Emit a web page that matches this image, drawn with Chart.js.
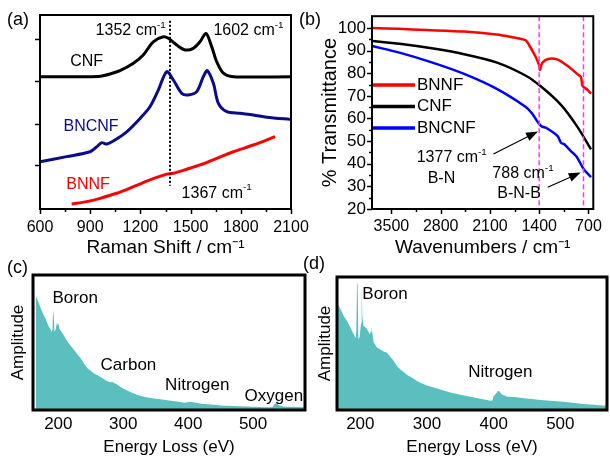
<!DOCTYPE html>
<html>
<head>
<meta charset="utf-8">
<script src="https://cdn.jsdelivr.net/npm/chart.js@4"></script>
<style>
  body { margin: 0; background: #fff; }
  canvas { position: absolute; left: 0; top: 0; }
</style>
</head>
<body>
<canvas id="ramanChart" width="610" height="456"></canvas>
<canvas id="ftirChart" width="610" height="456"></canvas>
<canvas id="eelsC" width="610" height="456"></canvas>
<canvas id="eelsD" width="610" height="456"></canvas>
<script>
// (a) Raman
const ramanCnfX = [600, 900, 960, 1018, 1078, 1158, 1217, 1277, 1337, 1367, 1417, 1467, 1516, 1556, 1592, 1626, 1656, 1696, 1755, 2100];
const ramanCnfY = [68.2, 68.2, 68.4, 69.6, 71.3, 75.1, 79.4, 86.2, 88.8, 88.0, 84.5, 82.0, 82.8, 86.2, 90.5, 83.7, 75.9, 70.0, 68.2, 68.2];
const ramanBncnfX = [600, 759, 899, 939, 969, 999, 1048, 1118, 1198, 1257, 1307, 1357, 1397, 1447, 1486, 1537, 1576, 1600, 1636, 1666, 1716, 1795, 1875, 1955, 2094, 2100];
const ramanBncnfY = [24.4, 27.0, 29.5, 32.1, 34.2, 33.5, 35.6, 39.8, 46.7, 52.7, 61.3, 70.8, 66.5, 59.6, 58.8, 60.5, 68.2, 71.3, 64.8, 54.5, 50.2, 49.3, 48.5, 47.3, 46.2, 46.2];
const ramanBnnfX = [789, 879, 959, 1058, 1158, 1257, 1357, 1397, 1477, 1557, 1656, 1756, 1875, 2005];
const ramanBnnfY = [2.6, 3.8, 5.5, 8.1, 11.5, 15.0, 18.0, 18.4, 20.5, 22.7, 26.1, 29.5, 33.0, 37.3];
const ramanXTicks = [600, 900, 1200, 1500, 1800, 2100];
const ramanXMinor = [750, 1050, 1350, 1650, 1950];
const ramanYTicks = [22.7, 43.8, 66, 87.6];

// (b) FTIR
const ftirBnnfX = [3776, 3400, 3000, 2467, 2009, 1800, 1595, 1550, 1458, 1400, 1389, 1357, 1274, 1137, 999, 861, 806, 785, 723, 663];
const ftirBnnfY = [100, 99.6, 99.1, 98.4, 97.1, 96.0, 94.6, 92.8, 87.7, 83.5, 81.5, 84.5, 86.3, 86.0, 83.3, 79.7, 78.3, 74.5, 72.9, 71.0];
const ftirCnfX = [3776, 3386, 2927, 2467, 2009, 1595, 1365, 1090, 861, 663];
const ftirCnfY = [94.2, 93.0, 91.0, 88.4, 84.8, 79.0, 73.9, 66.0, 56.5, 46.4];
const ftirBncnfX = [3776, 3386, 2927, 2467, 2009, 1595, 1503, 1411, 1365, 1297, 1137, 1090, 1044, 953, 861, 769, 663];
const ftirBncnfY = [92.0, 89.1, 84.8, 79.7, 73.2, 65.2, 62.3, 58.0, 56.5, 55.8, 52.2, 49.3, 48.6, 45.7, 42.8, 37.7, 34.1];
const ftirXTicks = [3500, 2800, 2100, 1400, 700];
const ftirXMinor = [3150, 2450, 1750, 1050];
const ftirYTicks = [20, 30, 40, 50, 60, 70, 80, 90, 100];
const ftirYMinor = [25, 35, 45, 55, 65, 75, 85, 95];

// (c) EELS BNCNF
const eelsCX = [165, 170, 175, 180, 185, 188, 190, 191, 192, 193, 194, 196, 198, 199, 200, 202, 205, 210, 215, 220, 225, 230, 235, 240, 245, 250, 255, 260, 265, 270, 275, 280, 283, 286, 290, 295, 300, 310, 320, 330, 340, 350, 360, 370, 380, 390, 395, 400, 405, 410, 420, 430, 440, 450, 460, 470, 480, 490, 500, 510, 520, 525, 530, 533, 536, 540, 545, 550, 560, 570, 580];
const eelsCY = [0.85, 0.79, 0.73, 0.68, 0.62, 0.60, 0.58, 0.60, 0.74, 0.70, 0.58, 0.60, 0.65, 0.63, 0.64, 0.60, 0.58, 0.54, 0.50, 0.47, 0.44, 0.41, 0.38, 0.34, 0.31, 0.29, 0.27, 0.26, 0.245, 0.23, 0.215, 0.205, 0.208, 0.2, 0.19, 0.175, 0.16, 0.135, 0.115, 0.1, 0.09, 0.083, 0.077, 0.071, 0.065, 0.058, 0.054, 0.06, 0.06, 0.055, 0.047, 0.042, 0.038, 0.034, 0.031, 0.029, 0.027, 0.026, 0.025, 0.023, 0.021, 0.02, 0.022, 0.045, 0.05, 0.035, 0.028, 0.025, 0.024, 0.022, 0.02];
// (d) EELS BNNF
const eelsDX = [165, 167, 172, 176, 180, 185, 190, 193, 194, 195, 196, 197, 199, 201, 202, 203, 205, 208, 211, 214, 216, 217, 218, 220, 225, 230, 235, 240, 245, 250, 255, 260, 265, 270, 275, 280, 285, 290, 300, 310, 320, 335, 350, 365, 380, 390, 395, 398, 400, 403, 406, 408, 410, 413, 416, 420, 430, 435, 445, 460, 475, 485, 500, 515, 535, 550, 560, 570];
const eelsDY = [0.8, 0.79, 0.74, 0.70, 0.67, 0.62, 0.57, 0.54, 0.60, 0.96, 0.94, 0.53, 0.55, 0.65, 0.92, 0.70, 0.63, 0.62, 0.60, 0.57, 0.59, 0.63, 0.58, 0.51, 0.47, 0.455, 0.44, 0.43, 0.40, 0.37, 0.33, 0.305, 0.285, 0.265, 0.25, 0.235, 0.218, 0.205, 0.185, 0.17, 0.155, 0.132, 0.115, 0.1, 0.085, 0.075, 0.07, 0.072, 0.105, 0.12, 0.14, 0.145, 0.13, 0.115, 0.11, 0.1, 0.097, 0.095, 0.088, 0.08, 0.074, 0.07, 0.063, 0.056, 0.045, 0.04, 0.036, 0.032];
const eelsTicks = [200, 300, 400, 500];

const FONT = '"Liberation Sans", Arial, sans-serif';
Chart.defaults.font.family = FONT;
Chart.defaults.color = '#000';

const pts = (xs, ys) => xs.map((x, i) => ({ x: x, y: ys[i] }));

function supText(ctx, x, y, base, sup, size, align, color) {
  ctx.fillStyle = color || '#000';
  ctx.textBaseline = 'middle';
  ctx.textAlign = 'left';
  ctx.font = size + 'px ' + FONT;
  const w1 = ctx.measureText(base).width;
  ctx.font = (size * 0.62) + 'px ' + FONT;
  const w2 = sup ? ctx.measureText(sup).width : 0;
  let x0 = x;
  if (align === 'center') x0 = x - (w1 + w2) / 2;
  if (align === 'right') x0 = x - w1 - w2;
  ctx.font = size + 'px ' + FONT;
  ctx.fillText(base, x0, y);
  if (sup) {
    ctx.font = (size * 0.62) + 'px ' + FONT;
    ctx.fillText(sup, x0 + w1, y - size * 0.36);
  }
}

// box, outward ticks, guide lines, notes, arrows, legend
const decor = {
  id: 'decor',
  afterDraw(chart, args, o) {
    const ctx = chart.ctx;
    const a = chart.chartArea;
    const sx = chart.scales.x, sy = chart.scales.y;
    ctx.save();
    (o.vlines || []).forEach(v => {
      ctx.strokeStyle = v.color;
      ctx.lineWidth = v.width;
      ctx.setLineDash(v.dash);
      const px = sx.getPixelForValue(v.x);
      ctx.beginPath();
      ctx.moveTo(px, sy.getPixelForValue(v.y0));
      ctx.lineTo(px, sy.getPixelForValue(v.y1));
      ctx.stroke();
    });
    ctx.setLineDash([]);
    ctx.strokeStyle = '#000';
    ctx.lineWidth = o.box;
    ctx.strokeRect(a.left, a.top, a.right - a.left, a.bottom - a.top);
    ctx.lineWidth = 1.5;
    const tick = (vals, len, horiz) => vals.forEach(v => {
      ctx.beginPath();
      if (horiz) {
        const px = Math.round(sx.getPixelForValue(v)) + 0.5;
        ctx.moveTo(px, a.bottom); ctx.lineTo(px, a.bottom + len);
      } else {
        const py = Math.round(sy.getPixelForValue(v)) + 0.5;
        ctx.moveTo(a.left, py); ctx.lineTo(a.left - len, py);
      }
      ctx.stroke();
    });
    if (o.ticks) {
      tick(o.ticks.xMajor || [], 5, true);
      tick(o.ticks.xMinor || [], 3, true);
      tick(o.ticks.yMajor || [], 5, false);
      tick(o.ticks.yMinor || [], 3, false);
    }
    (o.arrows || []).forEach(r => {
      const x0 = sx.getPixelForValue(r.x0), y0 = sy.getPixelForValue(r.y0);
      const x1 = sx.getPixelForValue(r.x1), y1 = sy.getPixelForValue(r.y1);
      const ang = Math.atan2(y1 - y0, x1 - x0);
      ctx.strokeStyle = '#000'; ctx.fillStyle = '#000'; ctx.lineWidth = 1.2;
      ctx.beginPath();
      ctx.moveTo(x0, y0);
      ctx.lineTo(x1 - 9 * Math.cos(ang), y1 - 9 * Math.sin(ang));
      ctx.stroke();
      ctx.beginPath();
      ctx.moveTo(x1, y1);
      ctx.lineTo(x1 - 12 * Math.cos(ang) + 4.5 * Math.sin(ang), y1 - 12 * Math.sin(ang) - 4.5 * Math.cos(ang));
      ctx.lineTo(x1 - 12 * Math.cos(ang) - 4.5 * Math.sin(ang), y1 - 12 * Math.sin(ang) + 4.5 * Math.cos(ang));
      ctx.closePath();
      ctx.fill();
    });
    (o.notes || []).forEach(n => {
      supText(ctx, sx.getPixelForValue(n.x), sy.getPixelForValue(n.y), n.t, n.s, n.size, 'center', n.color);
    });
    if (o.legend) {
      chart.data.datasets.forEach((d, i) => {
        const y = a.top + o.legend.top + i * o.legend.gap;
        ctx.strokeStyle = d.borderColor; ctx.lineWidth = 3.5;
        ctx.beginPath();
        ctx.moveTo(a.left + 1, y); ctx.lineTo(a.left + o.legend.len, y);
        ctx.stroke();
        supText(ctx, a.left + o.legend.len + 2, y, d.label, '', 17, 'left', '#000');
      });
    }
    if (o.label) supText(ctx, o.label.x, o.label.y, o.label.t, '', 18, 'left', '#000');
    ctx.restore();
  }
};

const fit = (w, h) => s => { if (w !== null) s.width = w; if (h !== null) s.height = h; };
const setTicks = vals => s => { s.ticks = vals.map(v => ({ value: v })); };
const plain = v => String(v);
const noGrid = { display: false, drawTicks: false };
const base = {
  responsive: false,
  animation: false,
  events: [],
  plugins: { legend: { display: false }, tooltip: { enabled: false } }
};

// (a)
new Chart(document.getElementById('ramanChart'), {
  type: 'line',
  data: {
    datasets: [
      { label: 'CNF', data: pts(ramanCnfX, ramanCnfY), borderColor: '#000000', borderWidth: 3 },
      { label: 'BNCNF', data: pts(ramanBncnfX, ramanBncnfY), borderColor: '#0a0a8a', borderWidth: 3 },
      { label: 'BNNF', data: pts(ramanBnnfX, ramanBnnfY), borderColor: '#ff0000', borderWidth: 3 }
    ]
  },
  options: {
    ...base,
    elements: { point: { radius: 0 }, line: { tension: 0.3 } },
    layout: { padding: { left: 0, right: 319, top: 15, bottom: 197 } },
    scales: {
      x: {
        type: 'linear', min: 600, max: 2100,
        grid: noGrid, border: { display: false },
        afterBuildTicks: setTicks(ramanXTicks), afterFit: fit(null, 50),
        ticks: { font: { size: 16 }, padding: 9, maxRotation: 0, callback: plain },
        title: { display: true, text: 'Raman Shift / cm⁻¹', font: { size: 19 }, padding: { top: 0, bottom: 0 } }
      },
      y: {
        min: 0, max: 100,
        grid: noGrid, border: { display: false },
        ticks: { display: false }, afterFit: fit(40, null)
      }
    },
    plugins: {
      ...base.plugins,
      decor: {
        box: 2,
        ticks: { xMajor: ramanXTicks, xMinor: ramanXMinor, yMajor: ramanYTicks },
        vlines: [{ x: 1377, y0: 97, y1: 12, color: '#000', width: 2, dash: [2, 2] }],
        notes: [
          { t: '1352 cm', s: '-1', x: 1142, y: 91.9, size: 16, color: '#000' },
          { t: '1602 cm', s: '-1', x: 1846, y: 91.9, size: 16, color: '#000' },
          { t: 'CNF', s: '', x: 879, y: 75.9, size: 16, color: '#000' },
          { t: 'BNCNF', s: '', x: 905, y: 42.4, size: 16, color: '#0a0a8a' },
          { t: 'BNNF', s: '', x: 887, y: 12.4, size: 16, color: '#ff0000' },
          { t: '1367 cm', s: '-1', x: 1656, y: 8.1, size: 16, color: '#000' }
        ],
        label: { t: '(a)', x: 7, y: 20 }
      }
    }
  },
  plugins: [decor]
});

// (b)
new Chart(document.getElementById('ftirChart'), {
  type: 'line',
  data: {
    datasets: [
      { label: 'BNNF', data: pts(ftirBnnfX, ftirBnnfY), borderColor: '#ff0000', borderWidth: 2.5 },
      { label: 'CNF', data: pts(ftirCnfX, ftirCnfY), borderColor: '#000000', borderWidth: 2.5 },
      { label: 'BNCNF', data: pts(ftirBncnfX, ftirBncnfY), borderColor: '#0000ff', borderWidth: 2.5 }
    ]
  },
  options: {
    ...base,
    elements: { point: { radius: 0 }, line: { tension: 0.25 } },
    layout: { padding: { left: 318, right: 10, top: 13, bottom: 197 } },
    scales: {
      x: {
        type: 'linear', min: 631, max: 3776, reverse: true,
        grid: noGrid, border: { display: false },
        afterBuildTicks: setTicks(ftirXTicks), afterFit: fit(null, 50),
        ticks: { font: { size: 16 }, padding: 8, maxRotation: 0, callback: plain },
        title: { display: true, text: 'Wavenumbers / cm⁻¹', font: { size: 19 }, padding: { top: 0, bottom: 0 } }
      },
      y: {
        min: 20, max: 105.2,
        grid: noGrid, border: { display: false },
        afterBuildTicks: setTicks(ftirYTicks), afterFit: fit(54, null),
        ticks: { font: { size: 17 }, padding: 6, callback: plain },
        title: { display: true, text: '% Transmittance', font: { size: 20 }, padding: 0 }
      }
    },
    plugins: {
      ...base.plugins,
      decor: {
        box: 2,
        ticks: { xMajor: ftirXTicks, xMinor: ftirXMinor, yMajor: ftirYTicks, yMinor: ftirYMinor },
        vlines: [
          { x: 1400, y0: 105.2, y1: 20, color: '#ff33ff', width: 1.5, dash: [5, 3] },
          { x: 770, y0: 105.2, y1: 20, color: '#ff33ff', width: 1.5, dash: [5, 3] }
        ],
        arrows: [
          { x0: 2050, y0: 44.3, x1: 1416, y1: 54.3 },
          { x0: 1279, y0: 29.6, x1: 810, y1: 36.1 }
        ],
        notes: [
          { t: '1377 cm', s: '-1', x: 2642, y: 42.7, size: 16, color: '#000' },
          { t: 'B-N', s: '', x: 2789, y: 33.3, size: 16, color: '#000' },
          { t: '788 cm', s: '-1', x: 1630, y: 35.5, size: 16, color: '#000' },
          { t: 'B-N-B', s: '', x: 1686, y: 26.8, size: 16, color: '#000' }
        ],
        legend: { top: 68.7, gap: 21.6, len: 43 },
        label: { t: '(b)', x: 299, y: 20 }
      }
    }
  },
  plugins: [decor]
});

function eelsChart(id, xs, ys, pad, yWidth, xRange, notes, label) {
  return new Chart(document.getElementById(id), {
    type: 'line',
    data: {
      datasets: [{
        label: 'EELS', data: pts(xs, ys), borderWidth: 0, borderColor: 'rgba(0,0,0,0)',
        backgroundColor: '#5cbfbf', fill: 'origin', pointRadius: 0, tension: 0
      }]
    },
    options: {
      ...base,
      layout: { padding: pad },
      scales: {
        x: {
          type: 'linear', min: xRange[0], max: xRange[1],
          grid: noGrid, border: { display: false },
          afterBuildTicks: setTicks(eelsTicks), afterFit: fit(null, 46),
          ticks: { font: { size: 17 }, padding: 4, maxRotation: 0, callback: plain },
          title: { display: true, text: 'Energy Loss (eV)', font: { size: 17, lineHeight: 1 }, padding: { top: 0, bottom: 0 } }
        },
        y: {
          min: 0, max: 1,
          grid: noGrid, border: { display: false },
          ticks: { display: false }, afterFit: fit(yWidth, null),
          title: { display: true, text: 'Amplitude', font: { size: 17 }, padding: 0 }
        }
      },
      plugins: { ...base.plugins, decor: { box: 3, notes: notes, label: label } }
    },
    plugins: [decor]
  });
}

eelsChart('eelsC', eelsCX, eelsCY, { left: 8, right: 305, top: 275, bottom: 0 }, 25, [161, 580], [
  { t: 'Boron', s: '', x: 226, y: 0.83, size: 17, color: '#000' },
  { t: 'Carbon', s: '', x: 308, y: 0.33, size: 17, color: '#000' },
  { t: 'Nitrogen', s: '', x: 414, y: 0.18, size: 17, color: '#000' },
  { t: 'Oxygen', s: '', x: 532, y: 0.1, size: 17, color: '#000' }
], { t: '(c)', x: 7, y: 268 });

eelsChart('eelsD', eelsDX, eelsDY, { left: 315, right: 3, top: 277, bottom: 0 }, 22, [165, 570], [
  { t: 'Boron', s: '', x: 237, y: 0.87, size: 17, color: '#000' },
  { t: 'Nitrogen', s: '', x: 410, y: 0.28, size: 17, color: '#000' }
], { t: '(d)', x: 303, y: 264 });
</script>
</body>
</html>
